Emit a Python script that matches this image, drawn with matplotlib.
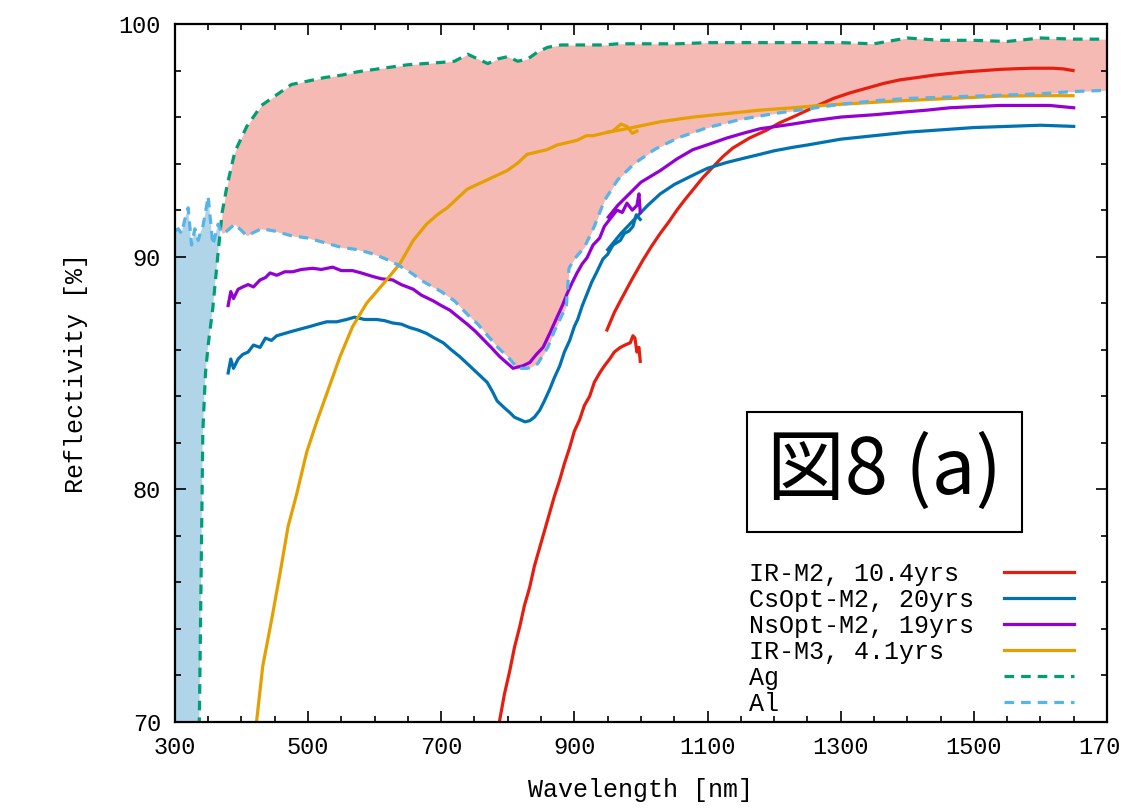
import numpy as np
from matplotlib import pyplot as plt

# reference mirrors (Ag, Al), same wavelength grid
ref_wl = [300, 305, 310, 315, 320, 325, 330, 335, 338, 342, 346, 350, 357, 365, 371, 378, 390,
          408, 430, 450, 475, 500, 525, 550, 575, 600, 625, 650, 675, 700, 720, 740, 755, 770,
          785, 800, 815, 830, 845, 860, 870, 880, 888, 892, 900, 915, 930, 945, 965, 990, 1020,
          1055, 1100, 1150, 1200, 1250, 1300, 1350, 1400, 1450, 1500, 1550, 1600, 1650, 1700]
ag = [25, 20, 15, 12, 12, 20, 45, 66, 73, 82.5, 85, 86.2, 87.8, 90.2, 91.9, 93.0, 94.5,
      95.6, 96.5, 96.9, 97.4, 97.55, 97.7, 97.8, 97.95, 98.05, 98.15, 98.25, 98.3, 98.35, 98.4,
      98.7, 98.5, 98.3, 98.5, 98.6, 98.4, 98.5, 98.8, 99.0, 99.05, 99.1, 99.1, 99.1, 99.1,
      99.1, 99.1, 99.1, 99.15, 99.15, 99.15, 99.15, 99.2, 99.2, 99.2, 99.2, 99.2, 99.15, 99.4,
      99.3, 99.3, 99.25, 99.4, 99.35, 99.35]
al = [91.1, 91.2, 91.0, 91.6, 92.1, 90.5, 91.2, 90.7, 91.0, 91.3, 91.9, 92.6, 90.5, 91.4,
      91.0, 91.1, 91.4, 90.9, 91.2, 91.1, 90.9, 90.8, 90.6, 90.4, 90.3, 90.1, 89.8, 89.4, 88.9,
      88.5, 88.1, 87.5, 87.1, 86.6, 86.1, 85.7, 85.2, 85.2, 85.4, 86.1, 86.8, 87.4, 87.9, 89.5,
      89.9, 90.4, 91.3, 92.4, 93.3, 94.0, 94.6, 95.1, 95.55, 95.9, 96.15, 96.35, 96.55, 96.7,
      96.8, 96.85, 96.9, 96.95, 97.0, 97.1, 97.15]

# IR-M2, 10.4yrs (two detector ranges)
irm2_wl_a = [780, 788, 795, 803, 810, 818, 825, 833, 840, 848, 856, 863, 870, 878, 885, 893,
             900, 908, 915, 923, 930, 938, 945, 953, 960, 969, 976, 984, 988, 991, 994, 997, 999]
irm2_a = [68.5, 70.1, 71.2, 72.2, 73.2, 74.1, 75.0, 75.8, 76.7, 77.5, 78.3, 79.0, 79.7, 80.4,
          81.1, 81.8, 82.5, 83.0, 83.6, 84.0, 84.6, 85.0, 85.3, 85.6, 85.9, 86.1, 86.2, 86.3,
          86.6, 86.5, 85.9, 86.1, 85.5]
irm2_wl_b = [949, 960, 971, 987, 1003, 1016, 1029, 1042, 1054, 1066, 1078, 1093, 1108, 1123,
             1138, 1163, 1189, 1208, 1228, 1258, 1289, 1315, 1340, 1365, 1389, 1415, 1439,
             1465, 1490, 1515, 1539, 1565, 1589, 1619, 1635, 1649]
irm2_b = [86.85, 87.6, 88.2, 89.05, 89.85, 90.45, 91.0, 91.5, 92.0, 92.45, 92.87, 93.4, 93.85,
          94.3, 94.67, 95.1, 95.44, 95.75, 96.0, 96.4, 96.8, 97.05, 97.25, 97.45, 97.6, 97.7,
          97.8, 97.88, 97.95, 98.0, 98.05, 98.08, 98.1, 98.1, 98.07, 98.0]

# CsOpt-M2, 20yrs
cs_wl_a = [380, 384, 388, 395, 402, 410, 418, 428, 436, 445, 453, 465, 477, 490, 503, 515, 528,
           543, 558, 570, 585, 603, 615, 627, 640, 653, 665, 678, 690, 703, 715, 728, 743, 756,
           769, 777, 784, 795, 803, 810, 818, 826, 833, 840, 848, 855, 863, 870, 878, 885, 893,
           900, 905, 912, 919, 926, 933, 943, 950, 958, 969, 975, 982, 988, 993, 999]
cs_a = [85.0, 85.6, 85.2, 85.6, 85.8, 85.9, 86.2, 86.1, 86.5, 86.4, 86.6, 86.7, 86.8, 86.9,
        87.0, 87.1, 87.2, 87.2, 87.3, 87.4, 87.3, 87.3, 87.25, 87.15, 87.1, 86.95, 86.85, 86.7,
        86.5, 86.3, 86.0, 85.7, 85.3, 84.95, 84.6, 84.2, 83.8, 83.5, 83.3, 83.1, 83.0, 82.9,
        82.95, 83.1, 83.4, 83.8, 84.3, 84.8, 85.3, 85.9, 86.4, 87.0, 87.3, 87.9, 88.4, 88.9,
        89.3, 89.9, 90.1, 90.5, 90.7, 91.0, 91.1, 91.3, 91.8, 91.6]
cs_wl_b = [950, 970, 990, 1010, 1029, 1050, 1078, 1100, 1129, 1150, 1179, 1200, 1228, 1250,
           1300, 1350, 1400, 1450, 1500, 1550, 1600, 1650]
cs_b = [90.3, 91.0, 91.6, 92.2, 92.7, 93.1, 93.5, 93.8, 94.05, 94.2, 94.4, 94.55, 94.7, 94.8,
        95.05, 95.2, 95.35, 95.45, 95.55, 95.6, 95.65, 95.6]

# NsOpt-M2, 19yrs
ns_wl_a = [380, 384, 388, 395, 402, 410, 418, 428, 436, 443, 453, 465, 477, 490, 507, 520, 537,
           550, 567, 580, 597, 610, 627, 640, 658, 670, 688, 700, 713, 726, 739, 751, 763, 775,
           788, 800, 808, 814, 822, 833, 843, 853, 863, 874, 882, 889, 897, 904, 912, 919, 928,
           938, 945, 953, 964, 972, 979, 987, 994, 997, 999]
ns_a = [87.9, 88.5, 88.2, 88.6, 88.7, 88.8, 88.7, 89.0, 89.1, 89.3, 89.2, 89.35, 89.35, 89.45,
        89.5, 89.45, 89.55, 89.4, 89.4, 89.3, 89.15, 89.05, 89.0, 88.8, 88.6, 88.35, 88.1, 87.9,
        87.7, 87.4, 87.1, 86.8, 86.45, 86.1, 85.7, 85.4, 85.2, 85.25, 85.3, 85.45, 85.8, 86.1,
        86.7, 87.4, 87.9, 88.4, 88.9, 89.3, 89.7, 89.95, 90.5, 90.8, 91.3, 91.6, 92.0, 91.9,
        92.3, 92.0, 92.2, 92.7, 91.9]
ns_wl_b = [951, 965, 979, 1000, 1029, 1054, 1078, 1104, 1129, 1153, 1179, 1204, 1228, 1260,
           1300, 1350, 1389, 1430, 1464, 1500, 1539, 1580, 1614, 1650]
ns_b = [91.7, 92.2, 92.6, 93.2, 93.7, 94.2, 94.6, 94.85, 95.1, 95.3, 95.5, 95.6, 95.7, 95.85,
        96.0, 96.1, 96.2, 96.3, 96.4, 96.45, 96.5, 96.5, 96.5, 96.4]

# IR-M3, 4.1yrs
irm3_wl_a = [405, 423, 432, 446, 458, 470, 483, 498, 513, 528, 548, 567, 588, 597, 618, 638,
             658, 678, 694, 709, 724, 739, 754, 769, 784, 799, 814, 829, 844, 859, 874, 889,
             904, 918, 928, 943, 958, 970, 979, 987, 994]
irm3_a = [66.5, 70.1, 72.4, 74.5, 76.4, 78.4, 79.8, 81.6, 82.9, 84.1, 85.7, 87.0, 88.0, 88.3,
          89.0, 89.7, 90.7, 91.4, 91.8, 92.1, 92.5, 92.9, 93.1, 93.3, 93.5, 93.7, 94.0, 94.4,
          94.5, 94.6, 94.8, 94.9, 95.0, 95.2, 95.2, 95.3, 95.4, 95.7, 95.6, 95.3, 95.4]
irm3_wl_b = [950, 979, 1029, 1078, 1129, 1179, 1228, 1269, 1300, 1389, 1464, 1539, 1600, 1649]
irm3_b = [95.35, 95.5, 95.8, 96.0, 96.15, 96.3, 96.4, 96.5, 96.55, 96.7, 96.8, 96.9, 96.92,
          96.92]

red, blue, purple, orange = '#e51e10', '#0072b2', '#9400d3', '#e69f00'
green, skyblue = '#009e73', '#56b4e9'

plt.rcParams['font.family'] = ['Liberation Mono', 'DejaVu Sans Mono']
fig = plt.figure(figsize=(11.21, 8.09), dpi=100)
ax = fig.add_axes([0.156, 0.1076, 0.8315, 0.8627])

ref_wl_arr, ag_arr, al_arr = np.array(ref_wl), np.array(ag), np.array(al)
ax.fill_between(ref_wl_arr, al_arr, ag_arr, where=ag_arr >= al_arr, interpolate=True,
                color='#f5bab4', lw=0)
ax.fill_between(ref_wl_arr, ag_arr, al_arr, where=al_arr >= ag_arr, interpolate=True,
                color='#b0d5e8', lw=0)

# gnuplot-style key: labels padded so the text column is left aligned
def key(s):
    return s.ljust(16)

lw = 2.3
ax.plot(irm2_wl_a, irm2_a, color=red, lw=lw, label=key('IR-M2, 10.4yrs'))
ax.plot(irm2_wl_b, irm2_b, color=red, lw=lw)
ax.plot(cs_wl_a, cs_a, color=blue, lw=lw, label=key('CsOpt-M2, 20yrs'))
ax.plot(cs_wl_b, cs_b, color=blue, lw=lw)
ax.plot(ns_wl_a, ns_a, color=purple, lw=lw, label=key('NsOpt-M2, 19yrs'))
ax.plot(ns_wl_b, ns_b, color=purple, lw=lw)
ax.plot(irm3_wl_a, irm3_a, color=orange, lw=lw, label=key('IR-M3, 4.1yrs'))
ax.plot(irm3_wl_b, irm3_b, color=orange, lw=lw)
ax.plot(ref_wl, ag, color=green, lw=lw, ls=(0, (3, 2.2)), label=key('Ag'))
ax.plot(ref_wl, al, color=skyblue, lw=lw, ls=(0, (3, 2.2)), label=key('Al'))

ax.set_xlim(300, 1700)
ax.set_ylim(70, 100)
ax.set_xticks(range(300, 1701, 200))
ax.set_xticks(range(300, 1701, 50), minor=True)
ax.set_yticks([70, 80, 90, 100])
ax.set_yticks(range(70, 101, 2), minor=True)
ax.tick_params(which='both', direction='in', top=True, right=True, width=1.2, labelsize=17)
ax.tick_params(which='major', length=8, pad=10)
ax.tick_params(which='minor', length=4)
for s in ax.spines.values():
    s.set_linewidth(1.6)

ax.set_xlabel('Wavelength [nm]', fontsize=18, labelpad=14)
ax.set_ylabel('Reflectivity [%]', fontsize=18, labelpad=22)

ax.legend(loc='lower right', bbox_to_anchor=(0.989, -0.023), frameon=False, markerfirst=False,
          fontsize=18, handlelength=2.8, labelspacing=0.08, handletextpad=0.6)

ax.text(0.761, 0.358, '図8 (a)', transform=ax.transAxes, ha='center', va='center',
        fontsize=56, family=['Noto Sans CJK JP', 'DejaVu Sans'],
        bbox=dict(boxstyle='square,pad=0.26', fc='white', ec='black', lw=1.5))

plt.savefig('out.png', dpi=100)
